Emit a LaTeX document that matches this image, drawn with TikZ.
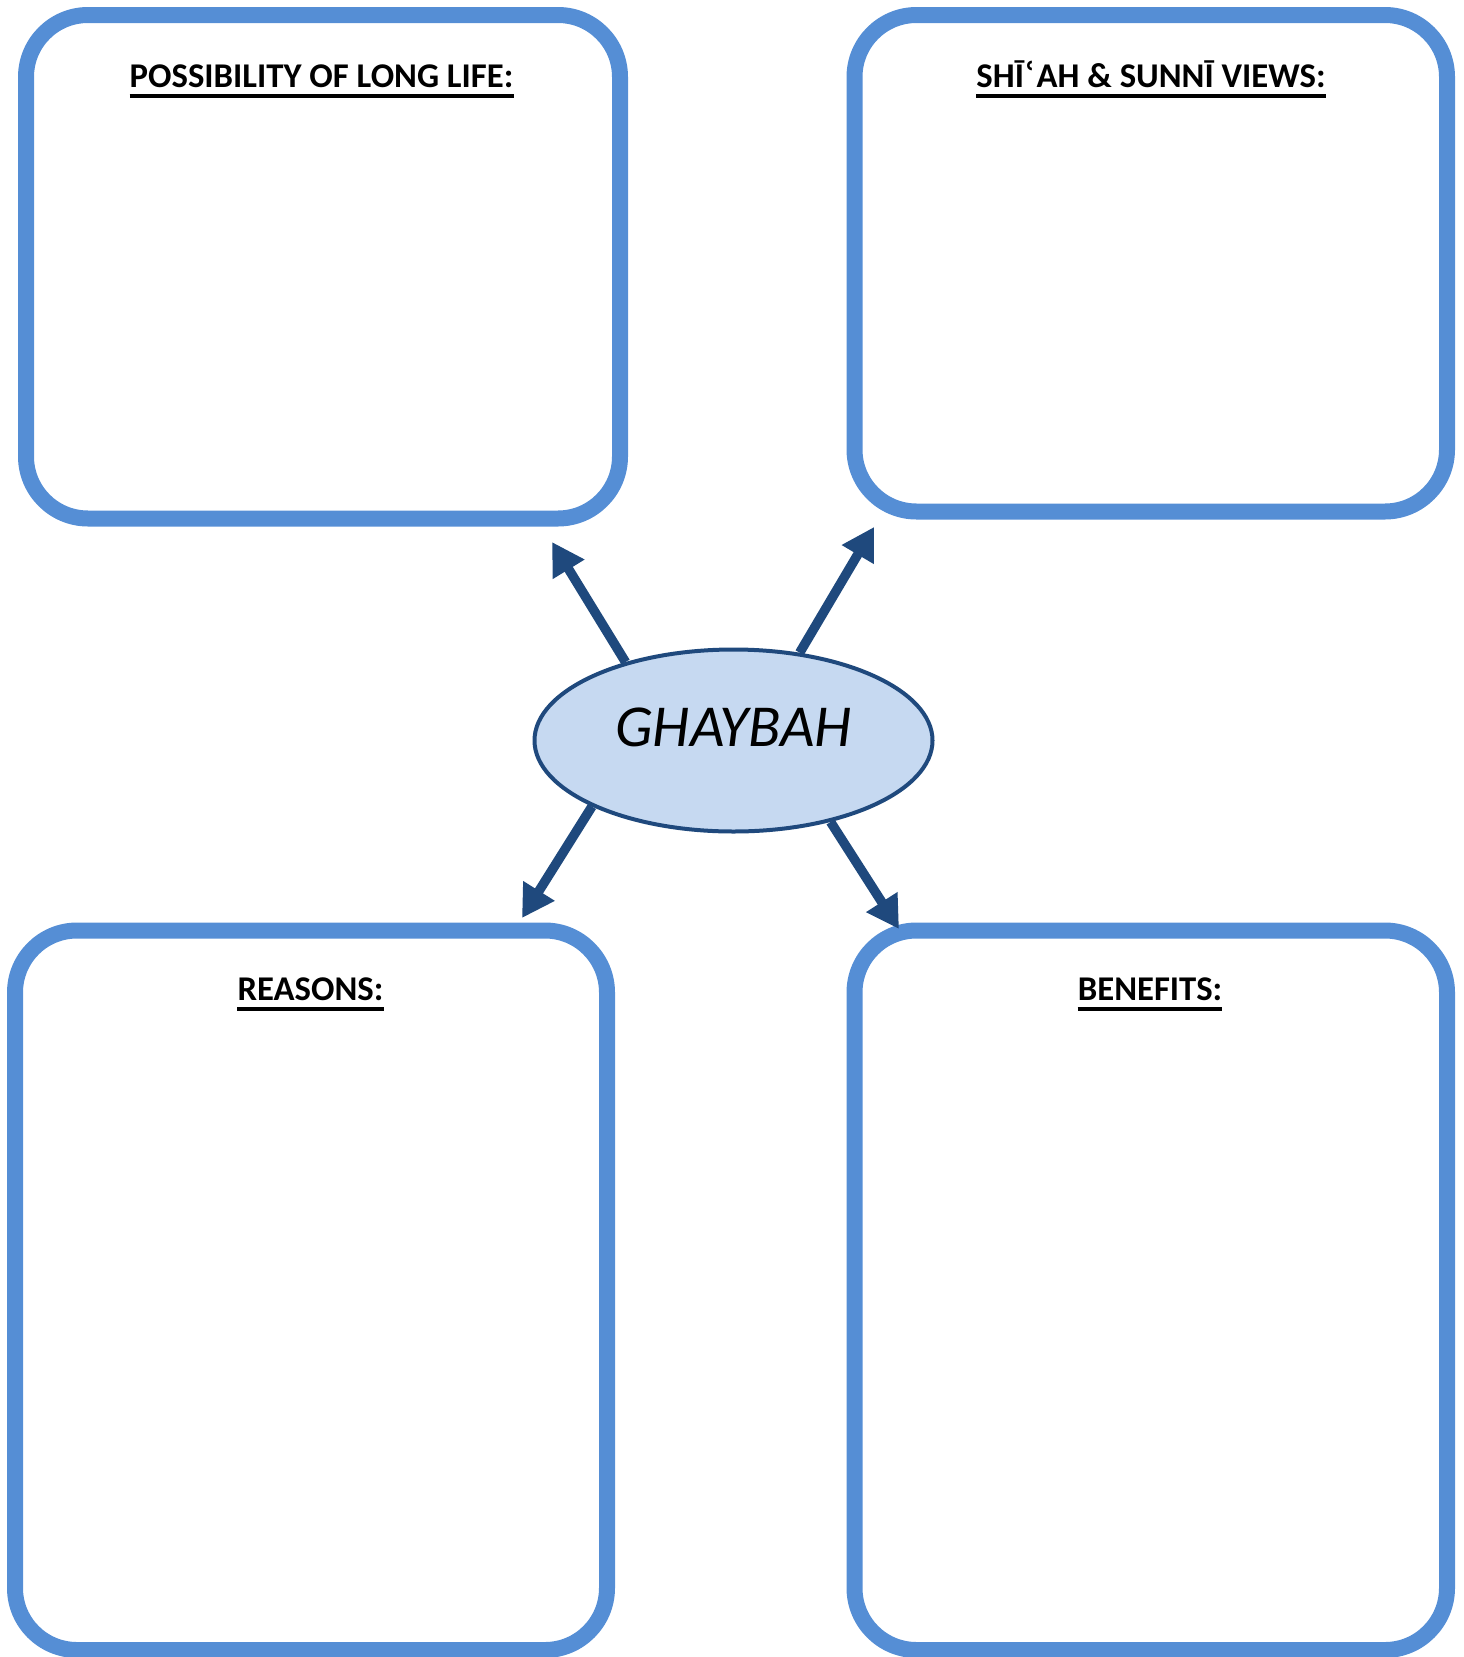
\documentclass[tikz,border=0pt]{standalone}
\usepackage{fontspec}
\setmainfont{Carlito}
\newfontfamily\djv{DejaVu Sans}
\usetikzlibrary{shapes.geometric,arrows.meta}
\definecolor{boxblue}{RGB}{85,142,213}
\definecolor{darkblue}{RGB}{31,73,125}
\definecolor{lightfill}{RGB}{198,217,241}
\begin{document}
\begin{tikzpicture}[x=1pt,y=-1pt,
  bigbox/.style={draw=boxblue, line width=16pt, rounded corners=62pt, rectangle, inner sep=0pt},
  title/.style={font=\bfseries\fontsize{34.7}{40}\selectfont, inner sep=0pt, anchor=base},
  uline/.style={line width=3.5pt, black},
  conn/.style={draw=darkblue, line width=9.5pt, -{Triangle[length=32pt,width=35pt]}},
  core/.style={ellipse, draw=darkblue, fill=lightfill, line width=4pt, inner sep=0pt, minimum width=398pt, minimum height=182pt}
]
\useasboundingbox (0,0) rectangle (1464,1657);
% boxes
\node[bigbox, minimum width=594pt, minimum height=503.5pt] (tl) at (323,266.75) {};
\node[bigbox, minimum width=592.5pt, minimum height=496.5pt] (tr) at (1150.75,263.25) {};
\node[bigbox, minimum width=592pt, minimum height=719.5pt] (bl) at (311,1290.25) {};
\node[bigbox, minimum width=592.5pt, minimum height=719.5pt] (br) at (1150.75,1290.25) {};
% titles
\node[title] (t1) at (321.5,87) {POSSIBILITY OF LONG LIFE:};
\node[title] (t2) at (1151,87) {SHĪ{\djv\bfseries ʿ}AH \& SUNNĪ VIEWS:};
\node[title] (t3) at (310.5,1000) {REASONS:};
\node[title] (t4) at (1150,1000) {BENEFITS:};
\foreach \t in {t1,t2,t3,t4}{
  \draw[uline] ([yshift=-9pt]\t.base west) -- ([yshift=-9pt]\t.base east);
}
% centre ellipse
\node[core] (ell) at (733.5,740.5) {};
\node[font=\itshape\fontsize{59.5}{70}\selectfont, inner sep=0pt] (gtxt) at ([yshift=13.5pt]ell.center) {GHAYBAH};
% arrow tips
\coordinate (ptl) at (552,542);
\coordinate (ptr) at (874,527);
\coordinate (pbl) at (522,918);
\coordinate (pbr) at (899,929);
\draw[conn] (ell.144) -- (ptl);
\draw[conn] (ell.53) -- (ptr);
\draw[conn] (ell.205) -- (pbl);
\draw[conn] (ell.320) -- (pbr);
\end{tikzpicture}
\end{document}
